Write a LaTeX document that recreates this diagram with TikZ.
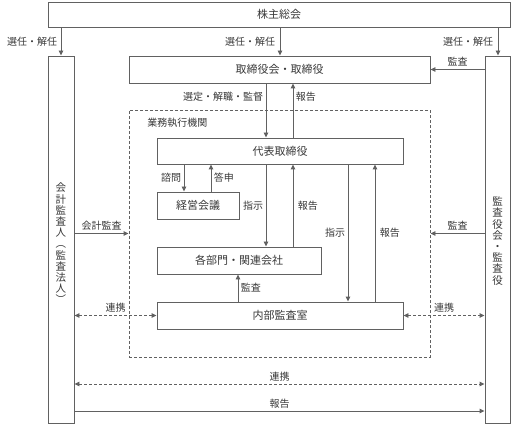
\documentclass[tikz,border=0pt]{standalone}
\usepackage{fontspec}
\setmainfont{Noto Sans CJK JP}
\usetikzlibrary{arrows.meta}
\definecolor{lc}{gray}{0.38}
\definecolor{tc}{gray}{0.22}
\begin{document}
\begin{tikzpicture}[x=1pt,y=-1pt,
  line/.style={draw=lc, line width=0.9pt},
  box/.style={line, rectangle, inner sep=0pt, text=tc, font=\fontsize{11}{12}\selectfont},
  lbl/.style={text=tc, font=\fontsize{10}{11}\selectfont, inner sep=2.5pt},
  vtxt/.style={text=tc, font=\fontsize{10.5}{11.2}\selectfont, align=center, inner sep=0pt},
  arr/.style={line, -{Triangle[length=5pt,width=4.5pt]}},
  darr/.style={line, dash pattern=on 3pt off 2pt, {Triangle[length=5pt,width=4.5pt]}-{Triangle[length=5pt,width=4.5pt]}},
]
\useasboundingbox (0,0) rectangle (512,425);

% boxes
\node[box, minimum width=462pt, minimum height=25pt] (sh) at (279,14.5) {株主総会};
\node[box, minimum width=26pt, minimum height=367pt] (kai) at (61,239.5) {};
\node[box, minimum width=25pt, minimum height=367pt] (kan) at (497.5,239.5) {};
\node[box, minimum width=301pt, minimum height=27pt] (tb) at (279.5,69.5) {取締役会・取締役};
\node[line, dash pattern=on 3pt off 2pt, rectangle, inner sep=0pt, minimum width=301pt, minimum height=247pt] (db) at (279.5,233.5) {};
\node[box, minimum width=246pt, minimum height=26pt] (dh) at (280,151) {代表取締役};
\node[box, minimum width=82pt, minimum height=27pt] (kk) at (198,205.5) {経営会議};
\node[box, minimum width=164pt, minimum height=27pt] (bm) at (239,260.5) {各部門・関連会社};
\node[box, minimum width=246pt, minimum height=27pt] (nb) at (280,315.5) {内部監査室};

% vertical texts
\node[vtxt] (kaitxt) at ([yshift=-4pt]kai.center) {会\\計\\監\\査\\人\\︵\\監\\査\\法\\人\\︶};
\node[vtxt] (kantxt) at ([yshift=-1.5pt]kan.center) {監\\査\\役\\会\\・\\監\\査\\役};
\node[lbl, anchor=west] (gyomu) at ([xshift=16pt,yshift=-13pt]db.north west) {業務執行機関};

% shareholders arrows
\draw[arr] (kai.north |- sh.south) -- node[lbl, left, xshift=-1pt] {選任・解任} (kai.north);
\draw[arr] ([xshift=0.5pt]tb.north |- sh.south) -- node[lbl, left, xshift=-2pt] {選任・解任} ([xshift=0.5pt]tb.north);
\draw[arr] ([xshift=0.5pt]kan.north |- sh.south) -- node[lbl, left, xshift=-2pt] {選任・解任} ([xshift=0.5pt]kan.north);

% audit to board
\draw[arr] (kan.west |- tb.east) -- node[lbl, above] {監査} (tb.east);

% board <-> representative
\draw[arr] ([xshift=-13.5pt]tb.south) -- node[lbl, left, pos=0.25] {選定・解職・監督} ([xshift=-14pt]dh.north);
\draw[arr] ([xshift=13pt]dh.north) -- node[lbl, right, pos=0.75] {報告} ([xshift=13.5pt]tb.south);

% representative <-> management meeting
\draw[arr] ([xshift=-14pt]kk.north |- dh.south) -- node[lbl, left] {諮問} ([xshift=-14pt]kk.north);
\draw[arr] ([xshift=13pt]kk.north) -- node[lbl, right] {答申} ([xshift=13pt]kk.north |- dh.south);

% representative <-> departments
\draw[arr] ([xshift=27pt]bm.north |- dh.south) -- node[lbl, left] {指示} ([xshift=27pt]bm.north);
\draw[arr] ([xshift=54pt]bm.north) -- node[lbl, right, xshift=2pt] {報告} ([xshift=54pt]bm.north |- dh.south);

% representative <-> internal audit
\draw[arr] ([xshift=68pt]nb.north |- dh.south) -- node[lbl, left] {指示} ([xshift=68pt]nb.north);
\draw[arr] ([xshift=95pt]nb.north) -- node[lbl, right, xshift=2pt] {報告} ([xshift=95pt]nb.north |- dh.south);

% internal audit -> departments
\draw[arr] ([xshift=-42pt]nb.north) -- node[lbl, right] {監査} ([xshift=-42pt]nb.north |- bm.south);

% external audits into executive body
\draw[arr] (kai.east |- db.west) -- node[lbl, above] {会計監査} (db.west);
\draw[arr] (kan.west |- db.east) -- node[lbl, above] {監査} (db.east);

% cooperation
\draw[darr] (kai.east |- nb.west) -- node[lbl, above, xshift=0pt] {連携} (nb.west);
\draw[darr] (nb.east) -- node[lbl, above] {連携} (kan.west |- nb.east);
\draw[darr] ([yshift=-144.5pt]kai.east) -- node[lbl, above] {連携} ([yshift=-144.5pt]kai.east -| kan.west);
\draw[arr] ([yshift=-171.5pt]kai.east) -- node[lbl, above] {報告} ([yshift=-171.5pt]kai.east -| kan.west);
\end{tikzpicture}
\end{document}
